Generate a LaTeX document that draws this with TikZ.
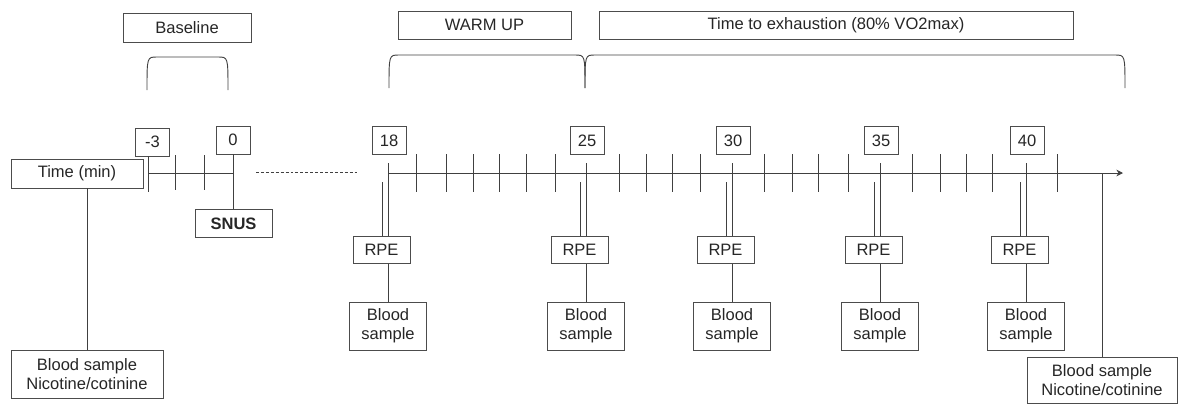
\documentclass[tikz,border=0pt]{standalone}
\usepackage{fontspec}
\setmainfont{Liberation Sans}
\usetikzlibrary{arrows.meta}
\begin{document}
\begin{tikzpicture}[x=0.75pt,y=-0.75pt]
  \tikzset{ lbl/.style={draw=black!70,line width=0.7pt,text=black!85,inner sep=0pt,
              font=\fontsize{12.4}{14.5}\selectfont,align=center},
            num/.style={lbl,minimum width=25.5pt,minimum height=21pt},
            rpe/.style={lbl,minimum width=42.75pt,minimum height=20.25pt},
            blood/.style={lbl,minimum width=57.75pt,minimum height=36pt},
            ln/.style={draw=black!75,line width=0.7pt},
  }
  \useasboundingbox (0,0) rectangle (1178,405);

  % phases on top
  \node[lbl, minimum width=96pt, minimum height=21.75pt] (baseline) at (187,27.5) {Baseline};
  \node[lbl, minimum width=129.75pt, minimum height=21pt] (warmup) at (484.5,25) {WARM UP};
  \node[lbl, minimum width=355.5pt, minimum height=21pt] (tte) at (836,25) {Time to exhaustion (80\% VO2max)};

  % the braces under the phases
  \draw[ln] (147,90) .. controls (147,57) .. (157,57) -- (218,57) .. controls (228,57) .. (228,90);
  \draw[ln] (389,88) .. controls (389,55) .. (399,55) -- (575,55) .. controls (585,55) .. (585,88);
  \draw[ln] (585,88) .. controls (585,55) .. (595,55) -- (1115,55) .. controls (1125,55) .. (1125,88);

  % time axis before the snus
  \node[lbl, minimum width=99pt, minimum height=21.75pt] (time) at (77,173.5) {Time (min)};
  \node[num] (m3) at (152.5,142) {-3};
  \node[num] (m0) at (233,140) {0};
  \node[lbl, font=\fontsize{12.4}{14.5}\selectfont\bfseries, minimum width=57.75pt, minimum height=21pt] (snus) at (233.5,223.5) {SNUS};
  \coordinate (a0) at (148,173);
  \coordinate (a1) at (233,173);
  \draw[ln] (a0) -- (a1);
  \draw[ln] (148,156) -- (148,192);
  \foreach \x in {175,204} \draw[ln] (\x,155) -- (\x,190);
  \draw[ln] (m0.south) -- (m0.south |- snus.north);
  \coordinate (d0) at (256,172);
  \coordinate (d1) at (357,172);
  \draw[ln, dash pattern=on 2.2pt off 1.5pt] (d0) -- (d1);

  % time axis during exercise
  \coordinate (b0) at (388,173);
  \coordinate (b1) at (1123,173);
  \draw[ln, -{Stealth[length=5pt,width=5pt]}] (b0) -- (b1);
  \foreach \x in {416,446,473,499,526,555,619,646,672,700,764,792,818,848,912,940,966,992,1057}
    \draw[ln] (\x,154) -- (\x,192);

  \foreach \x/\m in {388/18,586/25,732/30,880/35,1026/40}{
    \node[num] (t\m) at (\x+1,140.5) {\m};
    \node[rpe] (rpe\m) at (\x-6.5,250) {RPE};
    \node[blood] (bs\m) at (\x,326) {Blood\\sample};
    \coordinate (tk\m) at (\x,163);
    \coordinate (tj\m) at (\x-6,182);
    \draw[ln] (tk\m) -- (tk\m |- rpe\m.north);
    \draw[ln] (tj\m) -- (tj\m |- rpe\m.north);
    \draw[ln] (bs\m.north |- rpe\m.south) -- (bs\m.north);
  }

  % nicotine samples at start and end
  \node[lbl, minimum width=114pt, minimum height=36pt] (pre) at (87,374) {Blood sample\\Nicotine/cotinine};
  \node[lbl, minimum width=112.5pt, minimum height=34.5pt] (post) at (1102,380) {Blood sample\\Nicotine/cotinine};
  \draw[ln] (time.south -| pre.north) -- (pre.north);
  \draw[ln] (post.north |- b1) -- (post.north);
\end{tikzpicture}
\end{document}
